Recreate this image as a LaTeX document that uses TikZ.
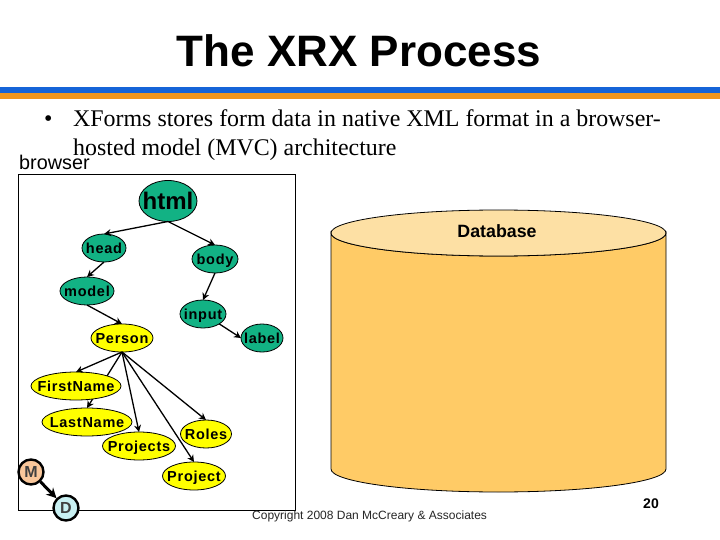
\documentclass[tikz,border=0pt]{standalone}
\usepackage{fontspec}
\setmainfont{Liberation Serif}
\setsansfont{Liberation Sans}
\newfontfamily\spaced[LetterSpace=5]{Liberation Sans}
\usetikzlibrary{shapes.geometric,arrows.meta}
\pgfdeclarelayer{backfill}
\pgfdeclarelayer{edges}
\pgfsetlayers{backfill,edges,main}
\newcommand{\tl}[2][5.2pt]{\makebox[0pt][c]{\raisebox{-#1}[0pt][0pt]{#2}}}
\definecolor{tealfill}{HTML}{12B284}
\definecolor{yelfill}{HTML}{FFFF00}
\definecolor{peach}{HTML}{F9C79B}
\definecolor{icecyan}{HTML}{C8F0F2}
\definecolor{dbtop}{HTML}{FDE0A4}
\definecolor{dbbody}{HTML}{FFCB66}
\definecolor{barblue}{HTML}{1564D8}
\definecolor{barorange}{HTML}{F0961E}
\tikzset{
  tree/.style={ellipse,draw=black,line width=0.8pt,inner sep=0pt,outer sep=0pt,minimum height=28pt,text=black,font=\spaced\bfseries\fontsize{14.5}{16}\selectfont},
  tealn/.style={tree,fill=tealfill},
  yeln/.style={tree,fill=yelfill},
  round/.style={circle,draw=black,line width=2.4pt,inner sep=0pt,minimum size=25pt,text=black!75,font=\sffamily\bfseries\fontsize{16}{18}\selectfont},
  link/.style={-{Stealth[length=7pt,width=7pt]},line width=1.3pt,black},
  mdlink/.style={-{Stealth[length=10pt,width=10pt]},line width=3pt,black},
  txt/.style={inner sep=0pt,anchor=base west,text=black}
}
\begin{document}
\begin{tikzpicture}[x=1pt,y=-1pt]
\useasboundingbox (0,0) rectangle (720,540);
\begin{pgfonlayer}{backfill}
\fill[white] (0,0) rectangle (720,540);
\end{pgfonlayer}
% header
\node[inner sep=0pt,anchor=base,font=\sffamily\bfseries\fontsize{44}{48}\selectfont] (title) at (359,67) {The XRX Process};
\fill[barblue] (0,87) rectangle (720,93);
\fill[barorange] (0,93) rectangle (720,99);
\node[txt,font=\fontsize{24}{28}\selectfont] (bullet) at (44,127) {•};
\node[txt,font=\fontsize{23.9}{28}\selectfont] (line1) at (73,127) {XForms stores form data in native XML format in a browser-};
\node[txt,font=\fontsize{23.9}{28}\selectfont] (line2) at (73,156) {hosted model (MVC) architecture};
\node[txt,font=\sffamily\fontsize{19.8}{22}\selectfont] (browser) at (19,170) {browser};
% database
\path[fill=dbbody,draw=black,line width=0.8pt] (331,233) -- (331,469) arc[start angle=180,end angle=360,x radius=167.5,y radius=-23] -- (666,233) arc[start angle=360,end angle=180,x radius=167.5,y radius=-23] -- cycle;
\path[fill=dbtop,draw=black,line width=0.8pt] (498.5,233) ellipse[x radius=167.5,y radius=23];
\node[inner sep=0pt,font=\sffamily\bfseries\fontsize{17.8}{20}\selectfont] (db) at (497,231) {Database};
% browser box
\draw[black,line width=0.8pt] (18.5,174.5) rectangle (295,510);
% nodes
\node[tealn,minimum width=58pt,minimum height=41pt,font=\sffamily\bfseries\fontsize{24}{26}\selectfont] (html) at (168,201) {\tl[8.5pt]{html}};
\node[tealn,minimum width=44pt] (head) at (104,248) {\tl{head}};
\node[tealn,minimum width=46pt] (body) at (215,259) {\tl{body}};
\node[tealn,minimum width=54pt] (model) at (87,291) {\tl{model}};
\node[tealn,minimum width=46pt] (input) at (203,314) {\tl{input}};
\node[yeln,minimum width=62pt] (person) at (122,338) {\tl{Person}};
\node[tealn,minimum width=42pt] (label) at (262,338) {\tl{label}};
\node[yeln,minimum width=90pt] (first) at (76,386) {\tl{FirstName}};
\node[yeln,minimum width=90pt] (last) at (87,422) {\tl{LastName}};
\node[yeln,minimum width=73pt] (projects) at (139,446) {\tl{Projects}};
\node[yeln,minimum width=51pt] (roles) at (206,434) {\tl{Roles}};
\node[yeln,minimum width=63pt] (project) at (194,476) {\tl{Project}};
\node[round,fill=peach] (m) at (31,472) {M};
\node[round,fill=icecyan] (d) at (66,508) {D};
% connectors
\draw[link] (html.south) -- (head.north);
\draw[link] (html.south) -- (body.north);
\draw[link] (head.south) -- (model.north);
\draw[link] (model.south) -- (person.north);
\draw[link] (body.south) -- (input.north);
\draw[link] (input.south east) -- (label.west);
\draw[link] (person.south) -- (first.north);
\begin{pgfonlayer}{edges}
\draw[link] (person.south) -- (last.north);
\end{pgfonlayer}
\draw[link] (person.south) -- (projects.north);
\draw[link] (person.south) -- (roles.north);
\draw[link] (person.south) -- (project.north);
\draw[mdlink] (m) -- (d);
% footer
\node[txt,font=\sffamily\fontsize{12}{14}\selectfont,text=black!85] (copy) at (252,519) {Copyright 2008 Dan McCreary \& Associates};
\node[inner sep=0pt,font=\sffamily\bfseries\fontsize{14}{16}\selectfont] (num) at (651,504) {20};
\end{tikzpicture}
\end{document}
